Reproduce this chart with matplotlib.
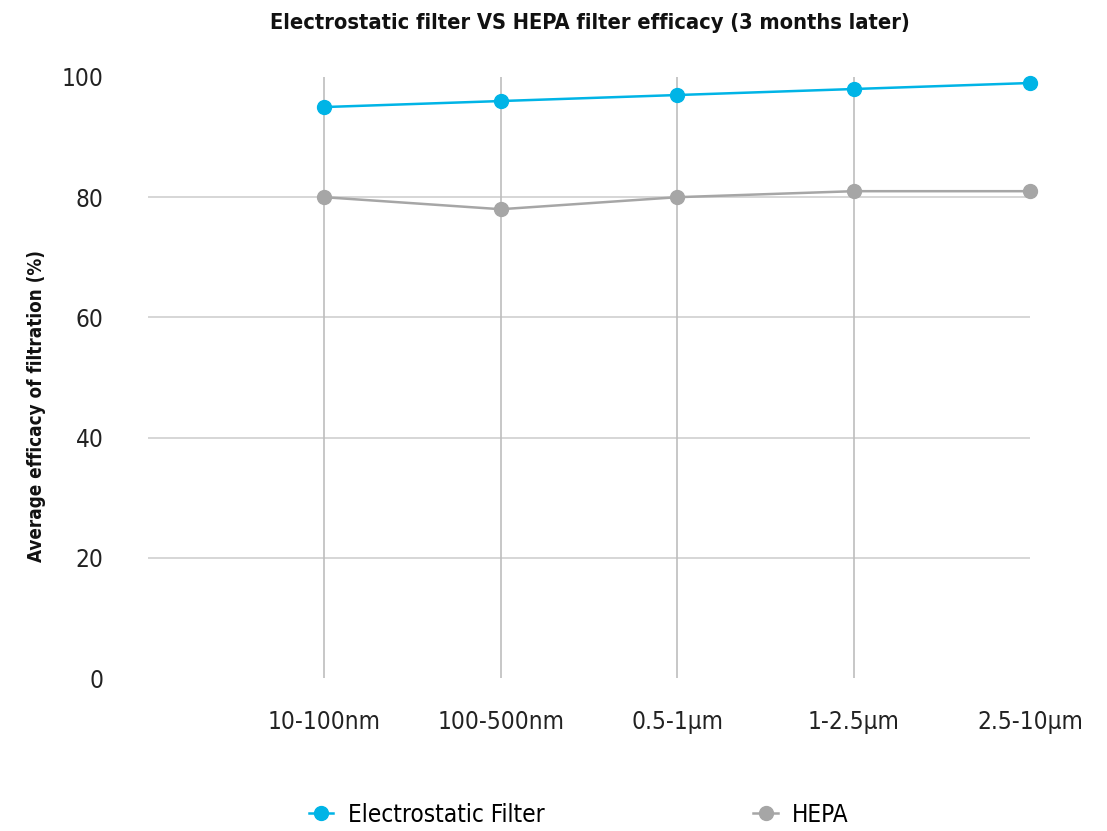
import matplotlib
matplotlib.use("Agg")
import matplotlib.pyplot as plt
from matplotlib import font_manager as fm
import numpy as np

categories = ["10-100nm", "100-500nm", "0.5-1µm", "1-2.5µm", "2.5-10µm"]
electrostatic = [95, 96, 97, 98, 99]
hepa = [80, 78, 80, 81, 81]
series_names = ["Electrostatic Filter", "HEPA"]
y_ticks = [0, 20, 40, 60, 80, 100]
title = "Electrostatic filter VS HEPA filter efficacy (3 months later)"
y_label = "Average efficacy of filtration (%)"

names = {f.name for f in fm.fontManager.ttflist}
if "Liberation Sans Narrow" in names:
    FAM = "Liberation Sans Narrow"
    STRETCH = "normal"
else:
    FAM = "DejaVu Sans"
    STRETCH = "condensed"

plt.rcParams["font.family"] = [FAM, "DejaVu Sans"]

BLUE = "#00B4E6"
GREY = "#A6A6A6"
TS = 17.5

fig = plt.figure(figsize=(11.07, 8.31), dpi=100)
ax = fig.add_axes([148 / 1107, 1 - 678 / 831, (1030 - 148) / 1107, (678 - 77) / 831])

x = np.arange(1, len(categories) + 1)
ax.set_xlim(0, len(categories))
ax.set_ylim(0, 100)

for yv in y_ticks[1:-1]:
    ax.axhline(yv, color="#CFCFCF", lw=1.2, zorder=1)
ax.vlines(x[:-1], 0, 100, color="#BDBDBD", lw=1.2, zorder=1)

ax.plot(x, electrostatic, color=BLUE, lw=1.8, marker="o", ms=10, zorder=3,
        label=series_names[0], clip_on=False)
ax.plot(x, hepa, color=GREY, lw=1.8, marker="o", ms=10, zorder=3,
        label=series_names[1], clip_on=False)

for s in ax.spines.values():
    s.set_visible(False)
ax.tick_params(length=0)
ax.set_xticks(x)
ax.set_xticklabels(categories, fontsize=TS, color="#222222", fontstretch=STRETCH)
ax.set_yticks(y_ticks)
ax.set_yticklabels([str(v) for v in y_ticks], fontsize=TS, color="#222222", fontstretch=STRETCH)
ax.tick_params(axis="x", pad=23)
ax.tick_params(axis="y", pad=32)

fig.text(0.533, 1 - 23 / 831, title, ha="center", va="center", fontsize=15.7,
         fontweight="bold", color="#111111", fontstretch=STRETCH)
fig.text(37 / 1107, 1 - 406 / 831, y_label, ha="center", va="center", rotation=90,
         fontsize=13.5, fontweight="bold", color="#111111", fontstretch=STRETCH)

leg = fig.legend(loc="center", bbox_to_anchor=(0.523, 1 - 815 / 831), ncol=2, frameon=False,
                 handlelength=1.0, columnspacing=8.6, handletextpad=0.6,
                 prop={"family": [FAM, "DejaVu Sans"], "size": TS, "stretch": STRETCH})

fig.savefig("out.png", dpi=100)
